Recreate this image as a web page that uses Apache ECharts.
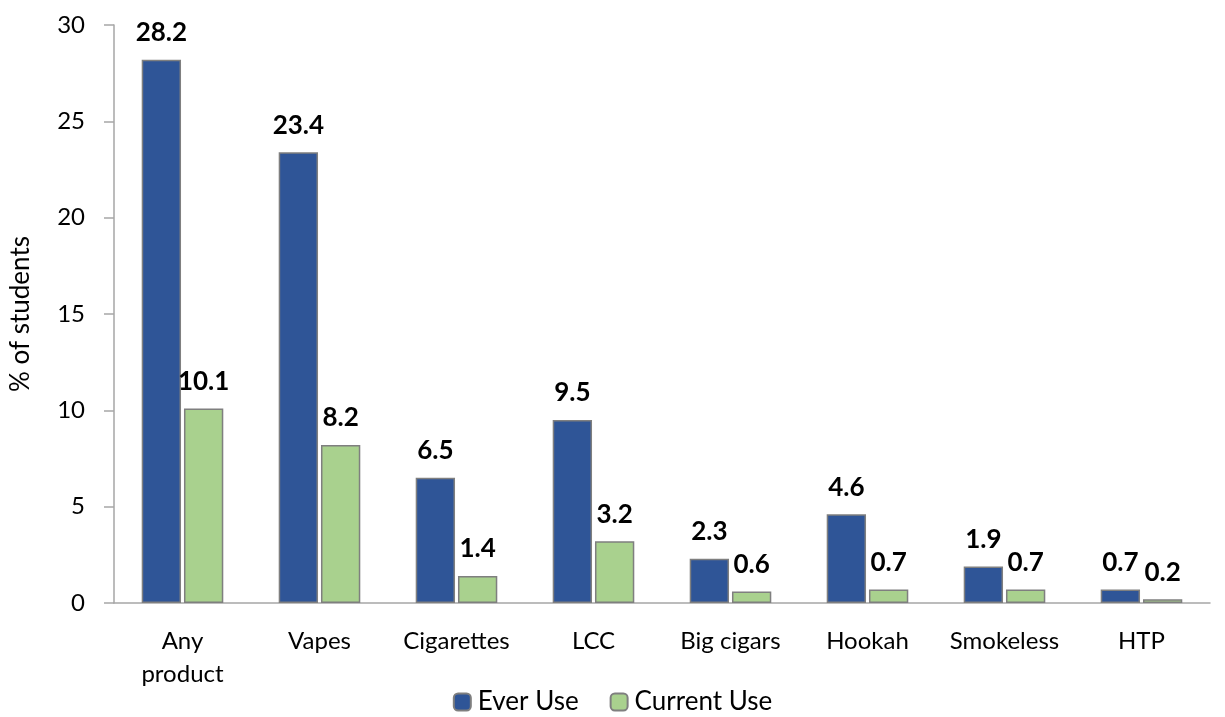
<!DOCTYPE html>
<html>
<head>
<meta charset="utf-8">
<script src="https://cdn.jsdelivr.net/npm/echarts@6/dist/echarts.min.js"></script>
<style>
  html, body { margin: 0; padding: 0; background: #fff; }
  #chart { width: 1225px; height: 717px; }
</style>
</head>
<body>
<div id="chart"></div>
<script>
// Tobacco product use among students (%)
const categories = ['Any\nproduct', 'Vapes', 'Cigarettes', 'LCC', 'Big cigars', 'Hookah', 'Smokeless', 'HTP'];
const everUse = [28.2, 23.4, 6.5, 9.5, 2.3, 4.6, 1.9, 0.7];
const currentUse = [10.1, 8.2, 1.4, 3.2, 0.6, 0.7, 0.7, 0.2];
const yTicks = [0, 5, 10, 15, 20, 25, 30];

const FONT = 'Lato, "Open Sans", sans-serif';

const chart = echarts.init(document.getElementById('chart'), null, { renderer: 'canvas' });

const barLabel = {
  show: true,
  position: 'top',
  distance: 14,
  fontFamily: FONT,
  fontWeight: 'bold',
  fontSize: 26,
  color: '#000',
  formatter: p => p.value.toFixed(1)
};

chart.setOption({
  animation: false,
  textStyle: { fontFamily: FONT },
  grid: { left: 110, right: 15, top: 25, bottom: 114 },
  legend: {
    bottom: -3,
    left: 'center',
    itemWidth: 17,
    itemHeight: 17,
    itemGap: 31,
    textStyle: { fontFamily: FONT, fontSize: 26, color: '#000', padding: [0, 0, 0, 2] },
    data: ['Ever Use', 'Current Use']
  },
  xAxis: {
    type: 'category',
    data: categories,
    axisLine: { lineStyle: { color: '#a6a6a6', width: 1.5 } },
    axisTick: { show: false },
    axisLabel: { interval: 0, fontFamily: FONT, fontSize: 24, color: '#000', margin: 22, lineHeight: 33 }
  },
  yAxis: {
    type: 'value',
    min: yTicks[0],
    max: yTicks[yTicks.length - 1],
    interval: 5,
    name: '% of students',
    nameLocation: 'middle',
    nameGap: 80,
    nameTextStyle: { fontFamily: FONT, fontSize: 26, color: '#000' },
    axisLine: { show: true, lineStyle: { color: '#a6a6a6', width: 1.5 } },
    axisTick: { show: true, length: 10, lineStyle: { color: '#a6a6a6', width: 1.5 } },
    splitLine: { show: false },
    axisLabel: { fontFamily: FONT, fontSize: 24, color: '#000', margin: 29 }
  },
  series: [
    {
      name: 'Ever Use',
      type: 'bar',
      data: everUse,
      barWidth: '28.7%',
      barGap: '7.5%',
      itemStyle: { color: '#2F5597', borderColor: '#7f7f7f', borderWidth: 1.5 },
      label: barLabel
    },
    {
      name: 'Current Use',
      type: 'bar',
      data: currentUse,
      barWidth: '28.7%',
      itemStyle: { color: '#A9D18E', borderColor: '#7f7f7f', borderWidth: 1.5 },
      label: barLabel
    }
  ]
});
</script>
</body>
</html>
